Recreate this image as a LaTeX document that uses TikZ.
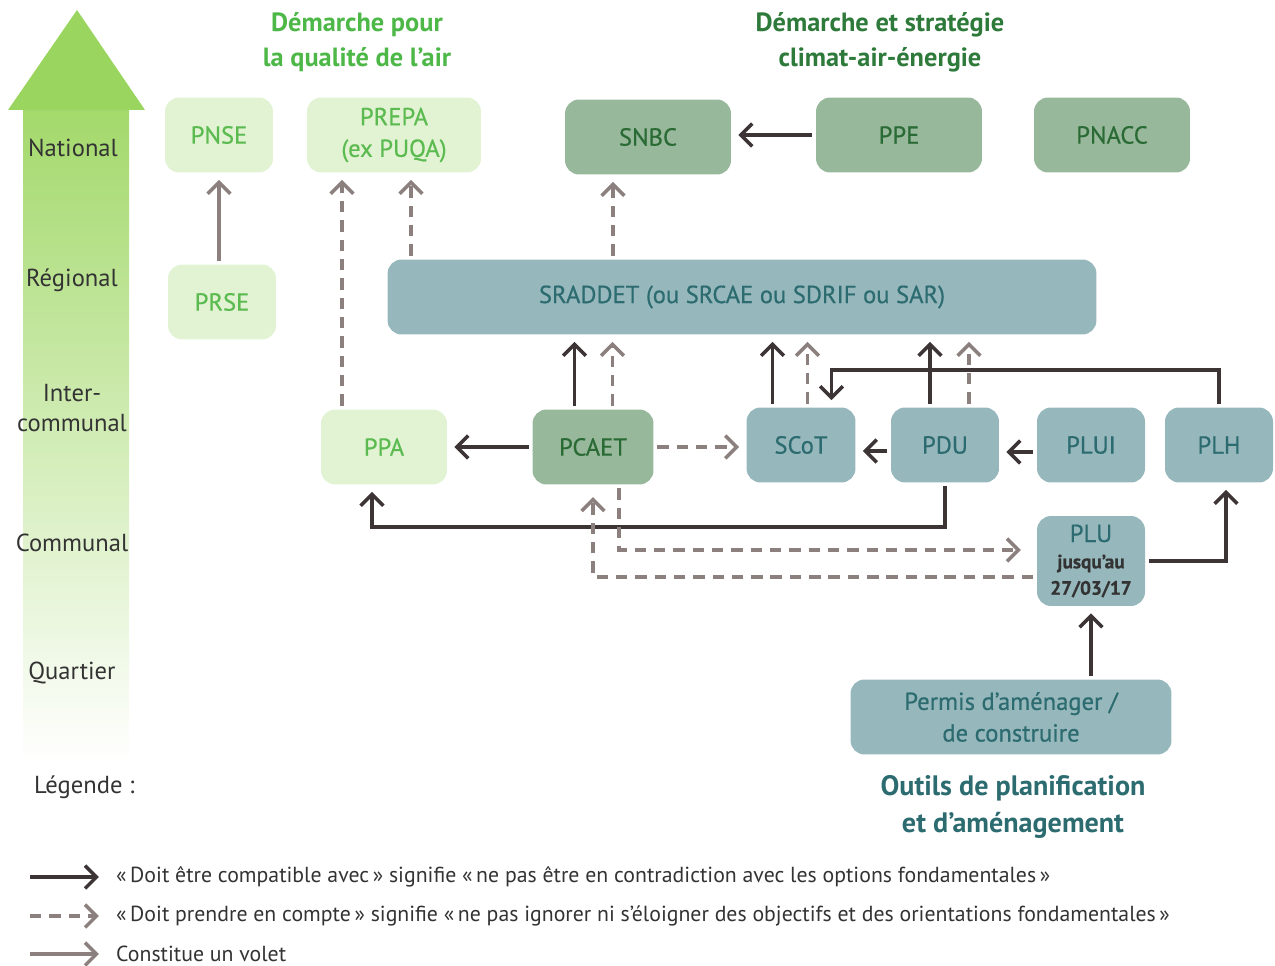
\documentclass[tikz,border=0pt]{standalone}
\usepackage{fontspec}
\setmainfont{PT Sans}
\newfontfamily\boxfont{PT Sans}[FakeBold=0.6]
\usepackage{xcolor}
\usepackage{tikz}
\usetikzlibrary{shapes,positioning,calc,arrows.meta}

\definecolor{airfill}{HTML}{E1F3D3}
\definecolor{airtext}{HTML}{5CBB50}
\definecolor{climfill}{HTML}{98B89B}
\definecolor{climtext}{HTML}{2A6B35}
\definecolor{planfill}{HTML}{96B7BB}
\definecolor{plantext}{HTML}{2C6C70}
\definecolor{arrdark}{HTML}{3D3435}
\definecolor{arrgray}{HTML}{8B807E}
\definecolor{levelgreen}{HTML}{9AD55F}
\definecolor{shaftgreen}{HTML}{A3D96B}
\definecolor{headair}{HTML}{4DB848}
\definecolor{headclim}{HTML}{2E7A3A}
\definecolor{labeldark}{HTML}{333333}

\tikzset{
  box/.style={rounded corners=8pt, align=center, inner sep=2pt,
    minimum height=1.5cm, font=\boxfont\fontsize{14}{18}\selectfont},
  airbox/.style={box, fill=airfill, text=airtext},
  climbox/.style={box, fill=climfill, text=climtext},
  planbox/.style={box, fill=planfill, text=plantext},
  compat/.style={draw=arrdark, line width=2pt,
    -{Straight Barb[length=6.5pt,width=13pt]}, shorten >=4pt, shorten <=2pt},
  account/.style={draw=arrgray, line width=2pt, dash pattern=on 6.5pt off 4.5pt,
    -{Straight Barb[length=6.5pt,width=13pt]}, shorten >=4pt, shorten <=2pt},
  volet/.style={draw=arrgray, line width=2pt,
    -{Straight Barb[length=6.5pt,width=13pt]}, shorten >=4pt, shorten <=2pt},
  level/.style={text=labeldark, align=center, font=\fontsize{14}{17}\selectfont},
  heading/.style={align=center, font=\fontsize{15}{20}\selectfont\bfseries},
  legendtext/.style={anchor=west, text=labeldark, font=\fontsize{12.4}{14}\selectfont},
}

\begin{document}
\begin{tikzpicture}[x=0.02cm, y=-0.02cm]
        \useasboundingbox (0,0) rectangle (1275,966);

        % Scale arrow
        \shade[top color=shaftgreen, bottom color=white] (23,108) rectangle (129,762);
        \fill[levelgreen] (8,110) -- (77,10) -- (145,110) -- cycle;

        \node[level] (national) at (73,148) {National};
        \node[level] (regional) at (72,280) {Régional};
        \node[level] (intercom) at (72,408) {Inter-\\communal};
        \node[level] (communal) at (72,543) {Communal};
        \node[level] (quartier) at (72,673) {Quartier};
        \node[level, anchor=west] (legende) at (28,787) {Légende~:};

        % Headings
        \node[heading, text=headair] (headair) at (357,42) {Démarche pour\\la qualité de l’air};
        \node[heading, text=headclim] (headclim) at (880,42) {Démarche et stratégie\\climat-air-énergie};
        \node[heading, text=plantext, font=\fontsize{16}{21}\selectfont\bfseries] (headplan) at (1013,807)
            {Outils de planification\\et d’aménagement};

        % Air quality
        \node[airbox, minimum width=2.16cm] (pnse) at (219,135) {PNSE};
        \node[airbox, minimum width=3.48cm] (prepa) at (394,135) {PREPA\\(ex PUQA)};
        \node[airbox, minimum width=2.16cm] (prse) at (222,302) {PRSE};
        \node[airbox, minimum width=2.52cm] (ppa) at (384,447) {PPA};

        % Climate, air, energy
        \node[climbox, minimum width=3.32cm] (snbc) at (648,137) {SNBC};
        \node[climbox, minimum width=3.32cm] (ppe) at (899,135) {PPE};
        \node[climbox, minimum width=3.12cm] (pnacc) at (1112,135) {PNACC};
        \node[climbox, minimum width=2.42cm] (pcaet) at (593,447) {PCAET};

        % Planning tools
        \node[planbox, minimum width=14.18cm] (sraddet) at (742,297) {SRADDET (ou SRCAE ou SDRIF ou SAR)};
        \node[planbox, minimum width=2.18cm] (scot) at (801,445) {SCoT};
        \node[planbox, minimum width=2.16cm] (pdu) at (945,445) {PDU};
        \node[planbox, minimum width=2.16cm] (plui) at (1091,445) {PLUI};
        \node[planbox, minimum width=2.16cm] (plh) at (1219,445) {PLH};
        \node[planbox, minimum width=2.16cm, minimum height=1.8cm] (plu) at (1091,561)
            {PLU\\[-3pt]{\fontsize{11}{13}\selectfont\bfseries\color{labeldark}jusqu’au}\\[-3pt]%
             {\fontsize{11}{13}\selectfont\bfseries\color{labeldark}27/03/17}};
        \node[planbox, minimum width=6.42cm] (permis) at (1011,717) {Permis d’aménager /\\de construire};

        % Top row
        \draw[volet] (prse.north -| pnse.south) -- (pnse.south);
        \draw[compat] (ppe.west) -- (ppe.west -| snbc.east);
        \draw[account] ([xshift=-0.84cm]ppa.north) -- ([xshift=-0.84cm]ppa.north |- prepa.south);
        \draw[account] ([xshift=0.34cm]prepa.south |- sraddet.north) -- ([xshift=0.34cm]prepa.south);
        \draw[account] ([xshift=-0.7cm]snbc.south |- sraddet.north) -- ([xshift=-0.7cm]snbc.south);

        % Up to SRADDET
        \draw[compat] ([xshift=-0.37cm]pcaet.north) -- ([xshift=-0.37cm]pcaet.north |- sraddet.south);
        \draw[account] ([xshift=0.39cm]pcaet.north) -- ([xshift=0.39cm]pcaet.north |- sraddet.south);
        \draw[compat] ([xshift=-0.57cm]scot.north) -- ([xshift=-0.57cm]scot.north |- sraddet.south);
        \draw[account] ([xshift=0.13cm]scot.north) -- ([xshift=0.13cm]scot.north |- sraddet.south);
        \draw[compat] ([xshift=-0.3cm]pdu.north) -- ([xshift=-0.3cm]pdu.north |- sraddet.south);
        \draw[account] ([xshift=0.48cm]pdu.north) -- ([xshift=0.48cm]pdu.north |- sraddet.south);

        % Middle row
        \draw[compat] (plh.north) -- ++(0,-37) -| ([xshift=0.61cm]scot.north);
        \draw[compat] (pcaet.west) -- (pcaet.west -| ppa.east);
        \draw[account] (pcaet.east) -- (pcaet.east -| scot.west);
        \draw[compat] ([yshift=-0.12cm]pdu.west) -- ([yshift=-0.12cm]pdu.west -| scot.east);
        \draw[compat] ([yshift=-0.14cm]plui.west) -- ([yshift=-0.14cm]plui.west -| pdu.east);

        % Lower links
        \draw[compat] (pdu.south) -- ++(0,44) -| ([xshift=-0.24cm]ppa.south);
        \draw[account, shorten >=9pt] ([xshift=0.52cm]pcaet.south) |- ([yshift=0.22cm]plu.west);
        \draw[account, shorten >=7pt] ([yshift=-0.32cm]plu.west) -| (pcaet.south);
        \draw[compat] (plu.east) -| ([xshift=0.14cm]plh.south);
        \draw[compat] (permis.north -| plu.south) -- (plu.south);

        % Legend
        \coordinate (leg1a) at (30,877);
        \coordinate (leg1b) at (106,877);
        \coordinate (leg2a) at (30,916);
        \coordinate (leg2b) at (106,916);
        \coordinate (leg3a) at (30,954);
        \coordinate (leg3b) at (106,954);
        \draw[compat, shorten <=0pt] (leg1a) -- (leg1b);
        \draw[account, shorten <=0pt] (leg2a) -- (leg2b);
        \draw[volet, shorten <=0pt] (leg3a) -- (leg3b);
        \node[legendtext] (leg1) at (110,877) {«\,Doit être compatible avec\,» signifie «\,ne pas être en contradiction avec les options fondamentales\,»};
        \node[legendtext] (leg2) at (110,916) {«\,Doit prendre en compte\,» signifie «\,ne pas ignorer ni s’éloigner des objectifs et des orientations fondamentales\,»};
        \node[legendtext] (leg3) at (110,954) {Constitue un volet};
\end{tikzpicture}
\end{document}
